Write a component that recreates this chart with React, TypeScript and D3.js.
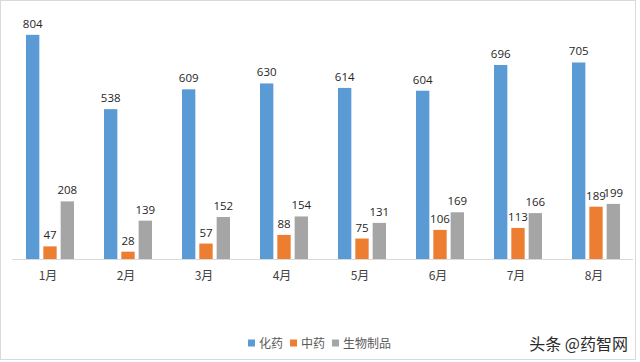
import React, { useRef, useEffect } from 'react';
import * as d3 from 'd3';

const months = ['1月', '2月', '3月', '4月', '5月', '6月', '7月', '8月'];
const seriesNames = ['化药', '中药', '生物制品'];
const chemical = [804, 538, 609, 630, 614, 604, 696, 705];
const tcm = [47, 28, 57, 88, 75, 106, 113, 189];
const biologic = [208, 139, 152, 154, 131, 169, 166, 199];
const colors = ['#5B9BD5', '#ED7D31', '#A5A5A5'];

const W = 640;
const H = 362;

function App() {
  const svgRef = useRef<SVGSVGElement>(null);

  useEffect(() => {
    const svg = d3.select(svgRef.current);
    svg.selectAll('*').remove();
    const values = [chemical, tcm, biologic];
    const baseY = 259.5;

    svg
      .append('rect')
      .attr('x', 0.5)
      .attr('y', 0.5)
      .attr('width', 635)
      .attr('height', 359)
      .attr('fill', '#fff')
      .attr('stroke', '#d9d9d9');

    const x0 = d3
      .scaleBand()
      .domain(months)
      .range([11, 635])
      .paddingInner(0.3846)
      .paddingOuter(0.1923);
    const x1 = d3
      .scaleBand()
      .domain(seriesNames)
      .range([0, x0.bandwidth()])
      .paddingInner(0.23);
    const y = d3.scaleLinear().domain([0, 900]).range([baseY, 8]);

    const groups = svg
      .selectAll('g.month')
      .data(months)
      .enter()
      .append('g')
      .attr('class', 'month')
      .attr('transform', (d) => `translate(${x0(d)},0)`);

    seriesNames.forEach((name, si) => {
      groups
        .append('rect')
        .attr('x', x1(name))
        .attr('y', (d, i) => y(values[si][i]))
        .attr('width', x1.bandwidth())
        .attr('height', (d, i) => baseY - y(values[si][i]))
        .attr('fill', colors[si]);
      groups
        .append('text')
        .attr('x', x1(name) + x1.bandwidth() / 2)
        .attr('y', (d, i) => y(values[si][i]) - 7)
        .attr('text-anchor', 'middle')
        .attr('font-family', '"Open Sans", sans-serif')
        .attr('font-size', 11.5)
        .attr('fill', '#262626')
        .text((d, i) => values[si][i]);
    });

    // category axis
    svg
      .append('line')
      .attr('x1', 12)
      .attr('x2', 633)
      .attr('y1', baseY)
      .attr('y2', baseY)
      .attr('stroke', '#d9d9d9');
    svg
      .selectAll('text.cat')
      .data(months)
      .enter()
      .append('text')
      .attr('class', 'cat')
      .attr('x', (d) => x0(d) + x0.bandwidth() / 2 - 2)
      .attr('y', 280)
      .attr('text-anchor', 'middle')
      .attr('font-family', '"Noto Sans CJK SC", sans-serif')
      .attr('font-size', 12)
      .attr('fill', '#404040')
      .text((d) => d);

    // legend
    let lx = 248;
    seriesNames.forEach((name, si) => {
      svg
        .append('rect')
        .attr('x', lx)
        .attr('y', 339.5)
        .attr('width', 7)
        .attr('height', 7)
        .attr('fill', colors[si]);
      const t = svg
        .append('text')
        .attr('x', lx + 11)
        .attr('y', 347.5)
        .attr('font-family', '"Noto Sans CJK SC", sans-serif')
        .attr('font-size', 12)
        .attr('fill', '#595959')
        .text(name);
      const w = (t.node() as SVGTextElement).getComputedTextLength();
      lx += 11 + w + 7;
    });

    svg
      .append('text')
      .attr('x', 628)
      .attr('y', 349.5)
      .attr('text-anchor', 'end')
      .attr('font-family', '"Noto Sans CJK SC", sans-serif')
      .attr('font-size', 16)
      .attr('fill', '#2a2a2a')
      .text('头条 @药智网');
  }, []);

  return (
    <svg
      ref={svgRef}
      width={W}
      height={H}
      style={{ position: 'absolute', left: 0, top: 0, background: '#fff' }}
    />
  );
}

export default App;
